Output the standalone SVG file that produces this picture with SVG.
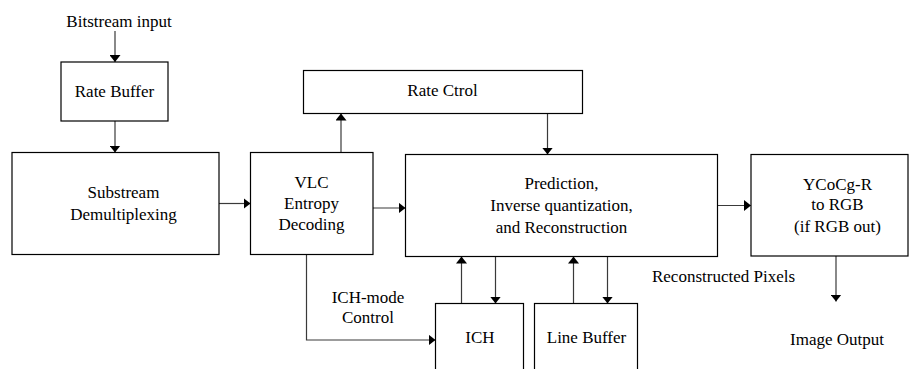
<svg xmlns="http://www.w3.org/2000/svg" width="909" height="369" viewBox="0 0 909 369">
<defs>
<marker id="ah" viewBox="0 0 7 11" refX="7" refY="5.5" markerWidth="7" markerHeight="11" markerUnits="userSpaceOnUse" orient="auto">
<path d="M0,0 L7,5.5 L0,11 Z" fill="#000"/>
</marker>
<style>
.box{fill:#fff;stroke:#000;stroke-width:1.2}
.t{font-family:"Liberation Serif","Times New Roman",serif;font-size:17px;fill:#000;text-anchor:middle}
.c{fill:none;stroke:#3a3a3a;stroke-width:1.2}
.a{marker-end:url(#ah)}
</style>
</defs>
<rect width="909" height="369" fill="#fff"/>
<g id="connectors">
<line class="c a" x1="115" y1="31" x2="115" y2="62"/>
<line class="c a" x1="115" y1="121" x2="115" y2="152.5"/>
<line class="c a" x1="219" y1="203.5" x2="250.5" y2="203.5"/>
<line class="c a" x1="341" y1="152.5" x2="341" y2="113.5"/>
<line class="c a" x1="547.5" y1="113.5" x2="547.5" y2="154.5"/>
<line class="c a" x1="373" y1="208" x2="405.5" y2="208"/>
<line class="c a" x1="717.5" y1="205.5" x2="751" y2="205.5"/>
<polyline class="c a" points="306.5,254.5 306.5,340 435.5,340"/>
<line class="c a" x1="461.5" y1="303.5" x2="461.5" y2="256.5"/>
<line class="c a" x1="495.5" y1="256.5" x2="495.5" y2="303.5"/>
<line class="c a" x1="573.5" y1="303.5" x2="573.5" y2="256.5"/>
<line class="c a" x1="607.5" y1="256.5" x2="607.5" y2="303.5"/>
<line class="c a" x1="836" y1="256" x2="836" y2="301.5"/>
</g>
<g id="bitstream-input"><text class="t" x="119" y="27">Bitstream input</text></g>
<g id="rate-buffer">
<rect class="box" x="61" y="62" width="107" height="59"/>
<text class="t" x="114.5" y="97">Rate Buffer</text>
</g>
<g id="substream">
<rect class="box" x="12" y="152.5" width="207" height="102"/>
<text class="t" x="123.5" y="198">Substream</text>
<text class="t" x="123.5" y="220">Demultiplexing</text>
</g>
<g id="rate-ctrl">
<rect class="box" x="303.5" y="70.5" width="279" height="43"/>
<text class="t" x="442.5" y="96">Rate Ctrol</text>
</g>
<g id="vlc">
<rect class="box" x="250.5" y="152.5" width="122.5" height="102"/>
<text class="t" x="311.5" y="187.5">VLC</text>
<text class="t" x="311.5" y="208.5">Entropy</text>
<text class="t" x="311.5" y="230">Decoding</text>
</g>
<g id="prediction">
<rect class="box" x="405.5" y="154.5" width="312" height="102"/>
<text class="t" x="561.5" y="189">Prediction,</text>
<text class="t" x="561.5" y="211">Inverse quantization,</text>
<text class="t" x="561.5" y="232.5">and Reconstruction</text>
</g>
<g id="ycocg">
<rect class="box" x="751" y="154.5" width="157" height="101.5"/>
<text class="t" x="837.5" y="190">YCoCg-R</text>
<text class="t" x="837.5" y="210">to RGB</text>
<text class="t" x="837.5" y="231.5">(if RGB out)</text>
</g>
<g id="ich">
<rect class="box" x="435.5" y="303.5" width="88" height="80"/>
<text class="t" x="480" y="343">ICH</text>
</g>
<g id="line-buffer">
<rect class="box" x="534.5" y="303.5" width="103" height="80"/>
<text class="t" x="586.5" y="343">Line Buffer</text>
</g>
<g id="labels">
<text class="t" x="368" y="302.5">ICH-mode</text>
<text class="t" x="368" y="323">Control</text>
<text class="t" x="723.5" y="281.5">Reconstructed Pixels</text>
<text class="t" x="837" y="345">Image Output</text>
</g>
</svg>
